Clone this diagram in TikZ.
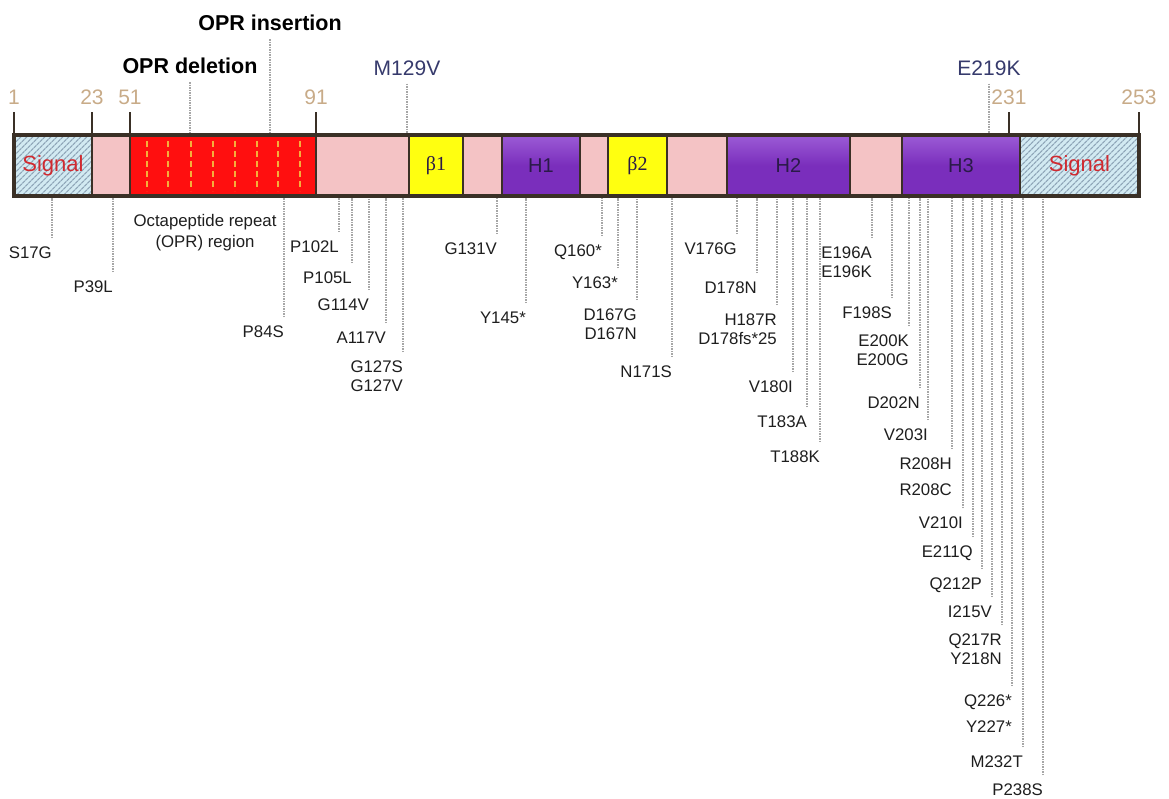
\documentclass[tikz,border=0pt]{standalone}
\usepackage{fontspec}
\setmainfont{Liberation Sans}
\newfontfamily\grkfont{Liberation Serif}
\usetikzlibrary{patterns.meta}

\definecolor{outl}{HTML}{3A3026}
\definecolor{pinkc}{HTML}{F4C3C5}
\definecolor{purp}{HTML}{7A2EBC}
\definecolor{purpL}{HTML}{9C5CD6}
\definecolor{yel}{HTML}{FFFF10}
\definecolor{oprred}{HTML}{FF0F0F}
\definecolor{oprc}{HTML}{F5AE3C}
\definecolor{sigblue}{HTML}{D2EAF2}
\definecolor{hatchc}{HTML}{8FA6B8}
\definecolor{sigred}{HTML}{D02A30}
\definecolor{hdark}{HTML}{2A1A48}
\definecolor{labc}{HTML}{1E1E1E}
\definecolor{dotc}{HTML}{A6A6A6}
\definecolor{numc}{HTML}{C8AB88}
\definecolor{navy}{HTML}{363A6C}

\begin{document}
\begin{tikzpicture}[x=1pt,y=-1pt,
    seg/.style={draw=outl,line width=2.5pt,minimum height=61,inner sep=0,text=hdark,font=\fontsize{20}{22}\selectfont},
    pinkbox/.style={seg,fill=pinkc},
    helix/.style={seg,top color=purpL,bottom color=purp,middle color=purp},
    strand/.style={seg,fill=yel},
    opr/.style={seg,fill=oprred},
    signal/.style={seg,preaction={fill=sigblue},pattern={Lines[angle=45,distance=4pt,line width=1.3pt]},pattern color=hatchc,text=sigred,font=\fontsize{22}{24}\selectfont},
    oprdash/.style={draw=oprc,line width=2.4pt,dash pattern=on 6pt off 4pt},
    mut/.style={anchor=north east,inner xsep=0,inner ysep=3pt,align=right,text=labc,font=\fontsize{16.8}{18.5}\selectfont},
    mutline/.style={draw=dotc,line width=1.8pt,dash pattern=on 1.5pt off 1pt,shorten <=6pt},
    num/.style={inner sep=3pt,text=numc,font=\fontsize{21}{23}\selectfont},
    tick/.style={draw=outl,line width=2.2pt,shorten <=4.5pt},
    toplab/.style={inner sep=3pt,text=black,font=\fontsize{21.5}{24}\selectfont\bfseries},
    varlab/.style={inner sep=3pt,text=navy,font=\fontsize{21}{23}\selectfont},
    topline/.style={draw=dotc,line width=1.8pt,dash pattern=on 1.5pt off 1pt,shorten <=5pt}]
\useasboundingbox (0,0) rectangle (1169,798);

% domains
\node[signal,minimum width=78] (sig1) at (53,165.5) {Signal};
\node[pinkbox,minimum width=38] (p1) at (111,165.5) {};
\node[opr,minimum width=186] (oprbox) at (223,165.5) {};
\node[pinkbox,minimum width=93] (p2) at (362.5,165.5) {};
\node[strand,minimum width=54] (b1) at (436,165.5) {\grkfont β1};
\node[pinkbox,minimum width=39] (p3) at (482.5,165.5) {};
\node[helix,minimum width=78] (h1) at (541,165.5) {H1};
\node[pinkbox,minimum width=28] (p4) at (594,165.5) {};
\node[strand,minimum width=59] (b2) at (637.5,165.5) {\grkfont β2};
\node[pinkbox,minimum width=60] (p5) at (697,165.5) {};
\node[helix,minimum width=123] (h2) at (788.5,165.5) {H2};
\node[pinkbox,minimum width=52] (p6) at (876,165.5) {};
\node[helix,minimum width=118] (h3) at (961,165.5) {H3};
\node[signal,minimum width=119] (sig2) at (1079.5,165.5) {Signal};
\node[draw=outl,line width=3.2pt,minimum width=1125,minimum height=61,inner sep=0] (bar) at (576.5,165.5) {};

% octapeptide repeats
\draw[oprdash] (147,141) -- (147,191) (168,141) -- (168,191) (191,141) -- (191,191)
  (213,141) -- (213,191) (235,141) -- (235,191) (257,141) -- (257,191)
  (278,141) -- (278,191) (300,141) -- (300,191);

% residue numbers
\node[num] (n1) at (14,97) {1};
\node[num] (n23) at (92,97) {23};
\node[num] (n51) at (130,97) {51};
\node[num] (n91) at (316,97) {91};
\node[num] (n231) at (1009,97) {231};
\node[num] (n253) at (1139,97) {253};
\path (n1) edge[tick] (n1 |- bar.north)
      (n23) edge[tick] (n23 |- bar.north)
      (n51) edge[tick] (n51 |- bar.north)
      (n91) edge[tick] (n91 |- bar.north)
      (n231) edge[tick] (n231 |- bar.north)
      (n253) edge[tick] (n253 |- bar.north);

% labels above the bar
\node[toplab] (ins) at (270,23) {OPR insertion};
\node[toplab] (del) at (190,66) {OPR deletion};
\node[varlab] (m129) at (407,68) {M129V};
\node[varlab] (e219) at (989,68) {E219K};
\path (ins) edge[topline] (ins |- bar.north)
      (del) edge[topline] (del |- bar.north)
      (m129) edge[topline] (m129 |- bar.north)
      (e219) edge[topline] (e219 |- bar.north);

\node[align=center,text=labc,font=\fontsize{16.8}{21}\selectfont] (oprtext) at (205,233) {Octapeptide repeat\\(OPR) region};

% mutations below the bar
\node[mut] (m17) at (52,244) {S17G};
\node[mut] (m39) at (113,278) {P39L};
\node[mut] (m84) at (284,323) {P84S};
\node[mut] (m102) at (339,238) {P102L};
\node[mut] (m105) at (352,269) {P105L};
\node[mut] (m114) at (369,296) {G114V};
\node[mut] (m117) at (386,329) {A117V};
\node[mut] (m127) at (403,358) {G127S\\G127V};
\node[mut] (m131) at (497,240) {G131V};
\node[mut] (m145) at (526,309) {Y145*};
\node[mut] (m160) at (602,242) {Q160*};
\node[mut] (m163) at (618,274) {Y163*};
\node[mut] (m167) at (637,306) {D167G\\D167N};
\node[mut] (m171) at (672,363) {N171S};
\node[mut] (m176) at (737,240) {V176G};
\node[mut] (m178) at (757,279) {D178N};
\node[mut] (m187) at (777,311) {H187R\\D178fs*25};
\node[mut] (m180) at (793,378) {V180I};
\node[mut] (m183) at (807,413) {T183A};
\node[mut] (m188) at (820,448) {T188K};
\node[mut] (m196) at (872,244) {E196A\\E196K};
\node[mut] (m198) at (892,304) {F198S};
\node[mut] (m200) at (909,332) {E200K\\E200G};
\node[mut] (m202) at (920,394) {D202N};
\node[mut] (m203) at (928,426) {V203I};
\node[mut] (m208) at (952,455) {R208H\\[7.5pt]R208C};
\node[mut] (m210) at (963,514) {V210I};
\node[mut] (m211) at (973,543) {E211Q};
\node[mut] (m212) at (982,575) {Q212P};
\node[mut] (m215) at (992,603) {I215V};
\node[mut] (m217) at (1002,631) {Q217R\\Y218N};
\node[mut] (m226) at (1012,692) {Q226*\\[7.5pt]Y227*};
\node[mut] (m232) at (1023,753) {M232T};
\node[mut] (m238) at (1043,781) {P238S};

\path (m17.north east) edge[mutline] (m17.north east |- bar.south)
      (m39.north east) edge[mutline] (m39.north east |- bar.south)
      (m84.north east) edge[mutline] (m84.north east |- bar.south)
      (m102.north east) edge[mutline] (m102.north east |- bar.south)
      (m105.north east) edge[mutline] (m105.north east |- bar.south)
      (m114.north east) edge[mutline] (m114.north east |- bar.south)
      (m117.north east) edge[mutline] (m117.north east |- bar.south)
      (m127.north east) edge[mutline] (m127.north east |- bar.south)
      (m131.north east) edge[mutline] (m131.north east |- bar.south)
      (m145.north east) edge[mutline] (m145.north east |- bar.south)
      (m160.north east) edge[mutline] (m160.north east |- bar.south)
      (m163.north east) edge[mutline] (m163.north east |- bar.south)
      (m167.north east) edge[mutline] (m167.north east |- bar.south)
      (m171.north east) edge[mutline] (m171.north east |- bar.south)
      (m176.north east) edge[mutline] (m176.north east |- bar.south)
      (m178.north east) edge[mutline] (m178.north east |- bar.south)
      (m187.north east) edge[mutline] (m187.north east |- bar.south)
      (m180.north east) edge[mutline] (m180.north east |- bar.south)
      (m183.north east) edge[mutline] (m183.north east |- bar.south)
      (m188.north east) edge[mutline] (m188.north east |- bar.south)
      (m196.north east) edge[mutline] (m196.north east |- bar.south)
      (m198.north east) edge[mutline] (m198.north east |- bar.south)
      (m200.north east) edge[mutline] (m200.north east |- bar.south)
      (m202.north east) edge[mutline] (m202.north east |- bar.south)
      (m203.north east) edge[mutline] (m203.north east |- bar.south)
      (m208.north east) edge[mutline] (m208.north east |- bar.south)
      (m210.north east) edge[mutline] (m210.north east |- bar.south)
      (m211.north east) edge[mutline] (m211.north east |- bar.south)
      (m212.north east) edge[mutline] (m212.north east |- bar.south)
      (m215.north east) edge[mutline] (m215.north east |- bar.south)
      (m217.north east) edge[mutline] (m217.north east |- bar.south)
      (m226.north east) edge[mutline] (m226.north east |- bar.south)
      (m232.north east) edge[mutline] (m232.north east |- bar.south)
      (m238.north east) edge[mutline] (m238.north east |- bar.south);
\end{tikzpicture}
\end{document}
